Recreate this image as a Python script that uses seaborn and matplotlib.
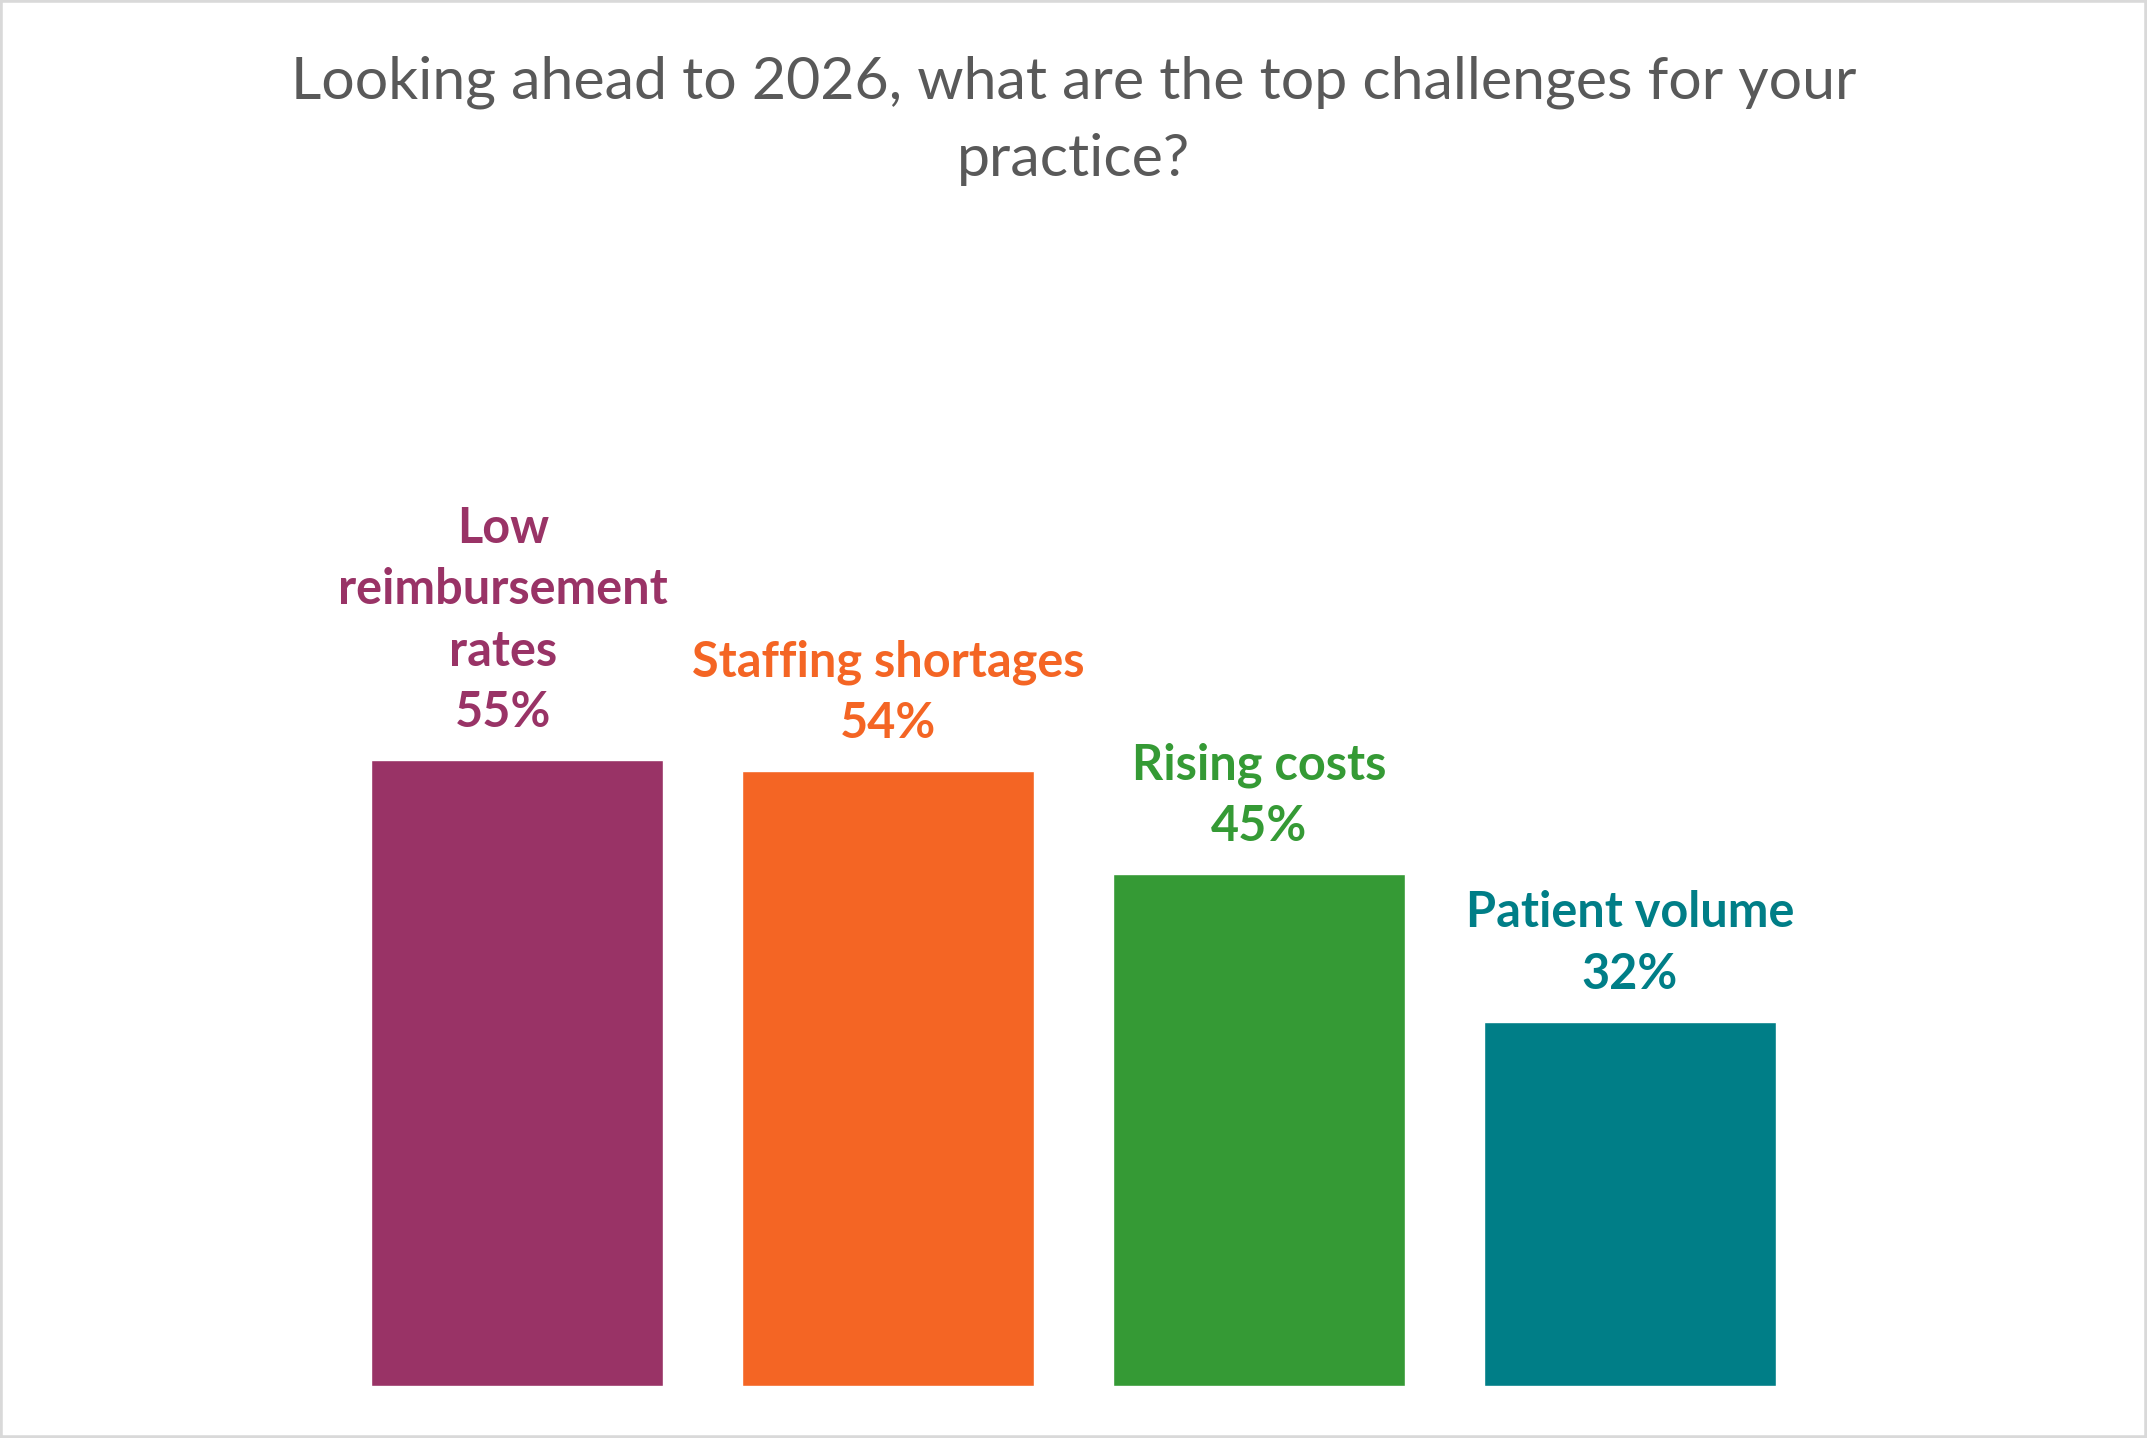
import matplotlib
matplotlib.use("Agg")
import matplotlib.pyplot as plt
import seaborn as sb
import pandas as pd
from matplotlib.patches import Rectangle

# chart data
categories = ["Low reimbursement rates", "Staffing shortages", "Rising costs", "Patient volume"]
labelTexts = ["Low\nreimbursement\nrates", "Staffing shortages", "Rising costs", "Patient volume"]
values = [55, 54, 45, 32]
barColors = ["#993366", "#F46524", "#359A35", "#007E87"]
title = "Looking ahead to 2026, what are the top challenges for your\npractice?"

dataframe = pd.DataFrame({"category": categories, "value": values})

sb.set_style("white")
plt.rcParams["font.family"] = ["Lato", "DejaVu Sans"]

fig = plt.figure(figsize=(21.47, 14.38), dpi=100)
ax = fig.add_axes([0.1543, 0.0362, 0.6913, 0.7914])

sb.barplot(data=dataframe, x="category", y="value", hue="category",
           palette=barColors, legend=False, width=0.786, saturation=1, ax=ax)
ax.set_ylim(0, 100)
ax.set_xlim(-0.5, 3.5)
ax.set_axis_off()

# the first label sits a little left of its bar in the original
xShift = [-14, 0, 0, 0]
for i, (txt, val) in enumerate(zip(labelTexts, values)):
    ax.annotate(f"{txt}\n{val}%", (i, val), xytext=(xShift[i], 33), textcoords="offset pixels",
                ha="center", va="baseline", fontsize=35, fontweight="bold",
                color=barColors[i], linespacing=1.44, annotation_clip=False)

fig.text(0.5, 0.916, title, ha="center", va="center", fontsize=42.5,
         color="#595959", linespacing=1.56)

fig.patches.append(Rectangle((0, 0), 1, 1, transform=fig.transFigure, fill=False,
                             edgecolor="#d9d9d9", linewidth=4, zorder=10))

fig.savefig("out.png", dpi=100, facecolor="white")
